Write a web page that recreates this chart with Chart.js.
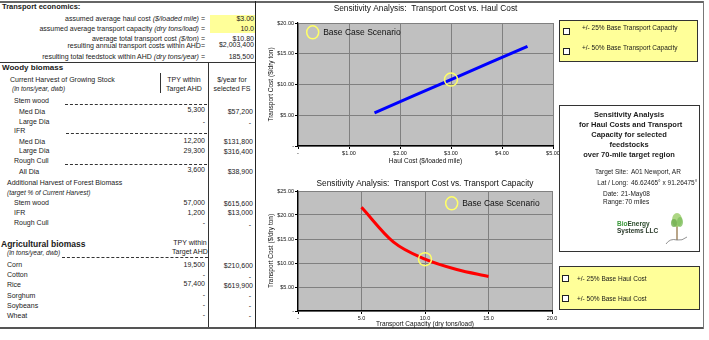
<!DOCTYPE html>
<html>
<head>
<meta charset="utf-8">
<script src="https://cdn.jsdelivr.net/npm/chart.js@4.4.1/dist/chart.umd.min.js"></script>
<style>
  body { margin: 0; width: 709px; height: 340px; position: relative; overflow: hidden; background: #fff;
         font-family: 'Liberation Sans', Arial, sans-serif; color: #1a1a1a; }
  .t { position: absolute; font-size: 7px; line-height: 8px; white-space: nowrap; }
  .c { text-align: center; width: 100px; }
  .b { font-weight: bold; }
  .i { font-style: italic; }
  .line { position: absolute; background: #333; }
  .dash { position: absolute; height: 0; border-top: 1px dashed #333; }
  canvas { position: absolute; }
  .ybox { position: absolute; background: #ffff99; border: 1px solid #333; box-sizing: border-box; }
  .chk { position: absolute; width: 5px; height: 5px; background: #fff; border: 1px solid #222; }
  .info { position: absolute; background: #fff; border: 1px solid #333; box-sizing: border-box; }
</style>
</head>
<body>

<!-- frame -->
<div class="line" style="left:0;top:1px;width:704px;height:2px;background:#666"></div>
<div class="line" style="left:0;top:327px;width:704px;height:2px;background:#555"></div>
<div class="line" style="left:703px;top:1px;width:1px;height:328px;background:#777"></div>
<div class="line" style="left:255px;top:1px;width:1px;height:327px;background:#222"></div>

<!-- transport economics -->
<div class="t b" style="left:2px;top:3px;font-size:7.5px">Transport economics:</div>
<div style="position:absolute;left:210px;top:15px;width:45px;height:18px;background:#ffff99"></div>
<div class="t" style="right:504px;top:14.5px">assumed average haul cost <i>($/loaded mile)</i> =</div>
<div class="t" style="right:504px;top:24.5px">assumed average transport capacity <i>(dry tons/load)</i> =</div>
<div class="t" style="right:504px;top:34.5px">average total transport cost <i>($/ton)</i> =</div>
<div class="t" style="right:504px;top:42px">resulting annual transport costs within AHD=</div>
<div class="t" style="right:504px;top:52.5px">resulting total feedstock within AHD <i>(dry tons/year)</i> =</div>
<div class="t" style="right:455px;top:14.5px">$3.00</div>
<div class="t" style="right:455px;top:24.5px">10.0</div>
<div class="t" style="right:455px;top:34.5px">$10.80</div>
<div class="t" style="right:455px;top:41px">$2,003,400</div>
<div class="t" style="right:455px;top:52.5px">185,500</div>
<div class="line" style="left:0;top:62px;width:256px;height:1px"></div>

<!-- woody biomass -->
<div class="line" style="left:208px;top:63px;width:1px;height:264px"></div>
<div class="line" style="left:160px;top:73px;width:1px;height:20px"></div>
<div class="t b" style="left:2px;top:63.5px;font-size:8px">Woody biomass</div>
<div class="t" style="left:10px;top:76px">Current Harvest of Growing Stock</div>
<div class="t i" style="left:12px;top:85px;font-size:6.5px">(in tons/year, dwb)</div>
<div class="t c" style="left:134px;top:76px">TPY within</div>
<div class="t c" style="left:134px;top:85px">Target AHD</div>
<div class="t c" style="left:182px;top:76px">$/year for</div>
<div class="t c" style="left:182px;top:85px">selected FS</div>

<div class="t" style="left:14px;top:97px">Stem wood</div>
<div class="dash" style="left:65px;top:104px;width:142px"></div>
<div class="t" style="left:19px;top:107.5px">Med Dia</div>
<div class="t" style="right:504px;top:106px">5,300</div>
<div class="t" style="right:456px;top:108px">$57,200</div>
<div class="t" style="left:19px;top:117.5px">Large Dia</div>
<div class="t" style="right:504px;top:117.5px">-</div>
<div class="t" style="right:458px;top:119px">-</div>
<div class="t" style="left:14px;top:127px">IFR</div>
<div class="dash" style="left:66px;top:133px;width:141px"></div>
<div class="t" style="left:19px;top:137.5px">Med Dia</div>
<div class="t" style="right:504px;top:137px">12,200</div>
<div class="t" style="right:456px;top:138px">$131,800</div>
<div class="t" style="left:19px;top:147px">Large Dia</div>
<div class="t" style="right:504px;top:147px">29,300</div>
<div class="t" style="right:456px;top:148px">$316,400</div>
<div class="t" style="left:14px;top:157px">Rough Cull</div>
<div class="dash" style="left:65px;top:164px;width:142px"></div>
<div class="t" style="left:19px;top:167.5px">All Dia</div>
<div class="t" style="right:504px;top:166px">3,600</div>
<div class="t" style="right:456px;top:168px">$38,900</div>

<div class="t" style="left:7px;top:179px">Additional Harvest of Forest Biomass</div>
<div class="t i" style="left:7px;top:189px;font-size:6.5px">(target % of Current Harvest)</div>
<div class="t" style="left:14px;top:199px">Stem wood</div>
<div class="t" style="right:504px;top:199px">57,000</div>
<div class="t" style="right:456px;top:200px">$615,600</div>
<div class="t" style="left:14px;top:209px">IFR</div>
<div class="t" style="right:504px;top:209px">1,200</div>
<div class="t" style="right:456px;top:209px">$13,000</div>
<div class="t" style="left:14px;top:219px">Rough Cull</div>
<div class="t" style="right:504px;top:219px">-</div>
<div class="t" style="right:458px;top:221px">-</div>

<!-- agricultural biomass -->
<div class="t b" style="left:1px;top:239.5px;font-size:8.5px">Agricultural biomass</div>
<div class="t c" style="left:140px;top:239px">TPY within</div>
<div class="t c" style="left:140px;top:248px">Target AHD</div>
<div class="t i" style="left:7px;top:249px;font-size:6.5px">(in tons/year, dwb)</div>
<div class="dash" style="left:62px;top:257px;width:146px"></div>
<div class="t" style="left:7px;top:261px">Corn</div>
<div class="t" style="right:504px;top:261px">19,500</div>
<div class="t" style="right:456px;top:262px">$210,600</div>
<div class="t" style="left:7px;top:271px">Cotton</div>
<div class="t" style="right:504px;top:271px">-</div>
<div class="t" style="right:458px;top:273px">-</div>
<div class="t" style="left:7px;top:281px">Rice</div>
<div class="t" style="right:504px;top:280px">57,400</div>
<div class="t" style="right:456px;top:282px">$619,900</div>
<div class="t" style="left:7px;top:292px">Sorghum</div>
<div class="t" style="right:504px;top:291px">-</div>
<div class="t" style="right:458px;top:292px">-</div>
<div class="t" style="left:7px;top:302px">Soybeans</div>
<div class="t" style="right:504px;top:301px">-</div>
<div class="t" style="right:458px;top:302px">-</div>
<div class="t" style="left:7px;top:312px">Wheat</div>
<div class="t" style="right:504px;top:311px">-</div>
<div class="t" style="right:458px;top:312px">-</div>

<!-- sensitivity charts -->
<canvas id="haulChart" width="309" height="166" style="left:256px;top:0"></canvas>
<canvas id="capacityChart" width="308" height="160" style="left:256px;top:168px"></canvas>

<!-- option boxes and summary -->
<div class="ybox" style="left:559px;top:20px;width:139px;height:42px"></div>
<div class="chk" style="left:563px;top:28px"></div>
<div class="chk" style="left:563px;top:48px"></div>
<div class="t" style="left:582px;top:23.5px;font-size:6.5px">+/- 25% Base Transport Capacity</div>
<div class="t" style="left:582px;top:43.5px;font-size:6.5px">+/- 50% Base Transport Capacity</div>

<div class="info" style="left:559px;top:105px;width:141px;height:147px"></div>
<div class="t b c" style="left:579px;top:110px;font-size:7.5px;line-height:10px">Sensitivity Analysis<br>for Haul Costs and Transport<br>Capacity for selected<br>feedstocks<br>over 70-mile target region</div>
<div class="t" style="right:81px;top:168px;font-size:6.5px">Target Site:</div>
<div class="t" style="left:631px;top:168px;font-size:6.5px">A01 Newport, AR</div>
<div class="t" style="right:81px;top:179px;font-size:6.5px">Lat / Long:</div>
<div class="t" style="left:631px;top:179px;font-size:6.5px">46.62465° x 91.26475°</div>
<div class="t" style="left:603px;top:190px;font-size:6.5px">Date:</div>
<div class="t" style="left:621px;top:190px;font-size:6.5px">21-May08</div>
<div class="t" style="left:603px;top:198px;font-size:6.5px">Range:</div>
<div class="t" style="left:625px;top:198px;font-size:6.5px">70 miles</div>
<div class="t b" style="left:617px;top:220px;font-size:6.5px;color:#2a4a2a"><span style="color:#3a9a3a">Bio</span>Energy</div>
<div class="t b" style="left:617px;top:227px;font-size:6.5px;color:#2a3a2a">Systems LLC</div>
<svg style="position:absolute;left:664px;top:210px" width="26" height="36" viewBox="0 0 26 36">
  <path d="M13 30 L13 14" stroke="#8a6a3a" stroke-width="1.2"/>
  <ellipse cx="13" cy="10" rx="5" ry="7" fill="#9fcf6f" opacity="0.85"/>
  <ellipse cx="10" cy="13" rx="3" ry="4" fill="#6fae4f" opacity="0.8"/>
  <ellipse cx="16" cy="12" rx="3" ry="5" fill="#7fbf5f" opacity="0.8"/>
  <path d="M2 34 Q6 28 13 30 Q18 31 23 27" stroke="#777" stroke-width="0.8" fill="none"/>
</svg>

<div class="ybox" style="left:559px;top:266px;width:141px;height:44px"></div>
<div class="chk" style="left:562px;top:275px"></div>
<div class="chk" style="left:562px;top:295px"></div>
<div class="t" style="left:577px;top:274.5px;font-size:6.5px">+/- 25% Base Haul Cost</div>
<div class="t" style="left:577px;top:294.5px;font-size:6.5px">+/- 50% Base Haul Cost</div>

<script>
// Transport cost ($/dry ton) for +/-25% and +/-50% steps around the base case
const haulCost = [1.50, 2.25, 3.00, 3.75, 4.50];
const costByHaul = [5.40, 8.10, 10.80, 13.50, 16.20];
const capacity = [5.0, 7.5, 10.0, 12.5, 15.0];
const costByCapacity = [21.60, 14.40, 10.80, 8.64, 7.20];

const baseHaul = 3.00;
const baseCapacity = 10.0;
const baseCost = 10.80;

const haulTickLabels = ['-', '$1.00', '$2.00', '$3.00', '$4.00', '$5.00'];
const capacityTickLabels = ['-', '5.0', '10.0', '15.0', '20.0'];
const costTickLabelsTop = ['-', '$5.00', '$10.00', '$15.00', '$20.00'];
const costTickLabelsBottom = ['-', '$5.00', '$10.00', '$15.00', '$20.00', '$25.00'];

Chart.defaults.font.family = "'Liberation Sans', Arial, sans-serif";
Chart.defaults.color = '#111';

// grey plot area like the spreadsheet charts
const plotBackground = {
  id: 'plotBackground',
  beforeDraw(chart) {
    const { ctx, chartArea: a } = chart;
    ctx.save();
    ctx.fillStyle = '#c0c0c0';
    ctx.fillRect(a.left, a.top, a.right - a.left, a.bottom - a.top);
    ctx.restore();
  }
};

// "Base Case Scenario" key drawn inside the plot
const baseCaseLegend = {
  id: 'baseCaseLegend',
  afterDatasetsDraw(chart, args, opts) {
    const { ctx, chartArea: a } = chart;
    const cx = a.left + opts.dx;
    const cy = a.top + opts.dy;
    ctx.save();
    ctx.strokeStyle = '#ffff66';
    ctx.lineWidth = 1.5;
    ctx.beginPath();
    ctx.ellipse(cx, cy, 6, 6.5, 0, 0, Math.PI * 2);
    ctx.stroke();
    ctx.fillStyle = '#111';
    ctx.font = "8.5px 'Liberation Sans', Arial, sans-serif";
    ctx.textBaseline = 'middle';
    ctx.fillText('Base Case Scenario', cx + 10.5, cy);
    ctx.restore();
  }
};

function sensitivityChart(id, s) {
  return new Chart(document.getElementById(id), {
    type: 'scatter',
    data: {
      datasets: [
        {
          data: [{ x: s.baseX, y: baseCost }],
          pointRadius: 6.5,
          borderColor: '#ffff66',
          backgroundColor: 'rgba(0,0,0,0)',
          borderWidth: 1.5,
          order: 0
        },
        {
          data: s.xs.map((x, i) => ({ x, y: s.ys[i] })),
          showLine: true,
          borderColor: s.color,
          borderWidth: 3,
          pointRadius: 0,
          cubicInterpolationMode: s.smooth ? 'monotone' : 'default',
          order: 1
        }
      ]
    },
    options: {
      responsive: false,
      animation: false,
      layout: { padding: { left: 2, right: 12, top: 0, bottom: 0 } },
      scales: {
        x: {
          type: 'linear',
          min: 0,
          max: s.xMax,
          afterFit(scale) { scale.height = s.xAxisHeight; },
          ticks: {
            stepSize: s.xStep,
            autoSkip: false,
            maxRotation: 0,
            padding: 1,
            font: { size: 5.5 },
            callback: (v, i) => s.xLabels[i]
          },
          grid: { color: '#808080', lineWidth: 1, tickLength: 3, tickColor: '#000' },
          border: { color: '#000', width: 1.2 },
          title: {
            display: true,
            text: s.xTitle,
            font: { size: 6.5, lineHeight: '8px' },
            padding: { top: 0, bottom: s.xTitlePad }
          }
        },
        y: {
          min: 0,
          max: s.yMax,
          afterFit(scale) { scale.width = 40; },
          ticks: {
            stepSize: 5,
            autoSkip: false,
            padding: 1,
            font: { size: 5.5 },
            callback: (v, i) => s.yLabels[i]
          },
          grid: { color: '#808080', lineWidth: 1, tickLength: 3, tickColor: '#000' },
          border: { color: '#000', width: 1.2 },
          title: {
            display: true,
            text: 'Transport Cost ($/dry ton)',
            font: { size: 6.5, lineHeight: '8px' },
            padding: { top: 9, bottom: 0 }
          }
        }
      },
      plugins: {
        legend: { display: false },
        tooltip: { enabled: false },
        title: {
          display: true,
          text: s.title,
          fullSize: false,
          color: '#111',
          font: { size: 8.3, weight: 'normal', lineHeight: '10px' },
          padding: s.titlePad
        },
        baseCaseLegend: s.legendAt
      }
    },
    plugins: [plotBackground, baseCaseLegend]
  });
}

sensitivityChart('haulChart', {
  xs: haulCost, ys: costByHaul, baseX: baseHaul, color: '#0000ff', smooth: false,
  xMax: 5, xStep: 1, yMax: 20,
  xLabels: haulTickLabels, yLabels: costTickLabelsTop,
  xTitle: 'Haul Cost ($/loaded mile)', xAxisHeight: 20, xTitlePad: 1,
  title: 'Sensitivity Analysis:  Transport Cost vs. Haul Cost',
  titlePad: { top: 4, bottom: 9 },
  legendAt: { dx: 14.7, dy: 9.3 }
});

sensitivityChart('capacityChart', {
  xs: capacity, ys: costByCapacity, baseX: baseCapacity, color: '#ff0000', smooth: true,
  xMax: 20, xStep: 5, yMax: 25,
  xLabels: capacityTickLabels, yLabels: costTickLabelsBottom,
  xTitle: 'Transport Capacity (dry tons/load)', xAxisHeight: 17, xTitlePad: 0,
  title: 'Sensitivity Analysis:  Transport Cost vs. Transport Capacity',
  titlePad: { top: 11, bottom: 2 },
  legendAt: { dx: 153.7, dy: 12.3 }
});
</script>
</body>
</html>
